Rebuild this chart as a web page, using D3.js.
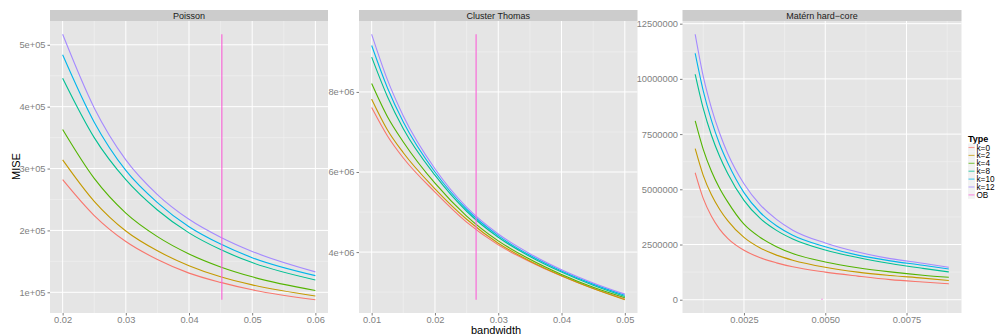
<!DOCTYPE html>
<html>
<head>
<meta charset="utf-8">
<script src="https://cdn.jsdelivr.net/npm/d3@7"></script>
<style>
  body { margin: 0; background: #fff; }
  svg { font-family: "Liberation Sans", Arial, sans-serif; }
</style>
</head>
<body>
<div id="chart"></div>
<script>
// series names + ggplot hue colours
types = ["k=0", "k=2", "k=4", "k=8", "k=10", "k=12", "OB"]
colors = ["#F8766D", "#C49A00", "#53B400", "#00C094", "#00B6EB", "#A58AFF", "#FB61D7"]

// Poisson (rows: k=0,k=2,k=4,k=8,k=10,k=12)
poissonBw = [0.02, 0.025, 0.03, 0.035, 0.04, 0.045, 0.05, 0.06]
poissonMise = [
  [282000, 224000, 182000, 153000, 131000, 116000, 104000, 88000],
  [314000, 247000, 199000, 167000, 143000, 125000, 112000, 94000],
  [363000, 284000, 228000, 190000, 162000, 141000, 125000, 103000],
  [446000, 350000, 282000, 233000, 196000, 169000, 148000, 120000],
  [484000, 375000, 297000, 245000, 206000, 178000, 156000, 127000],
  [517000, 398000, 314000, 258000, 218000, 189000, 166000, 133000]
]
poissonOB = [0.0452, 88000, 517000]   // bandwidth, from, to
poissonXTicks = [0.02, 0.03, 0.04, 0.05, 0.06]
poissonXLabels = ["0.02", "0.03", "0.04", "0.05", "0.06"]
poissonXMinor = [0.025, 0.035, 0.045, 0.055]
poissonYTicks = [100000, 200000, 300000, 400000, 500000]
poissonYLabels = ["1e+05", "2e+05", "3e+05", "4e+05", "5e+05"]
poissonYMinor = [150000, 250000, 350000, 450000]

// Cluster Thomas
thomasBw = [0.01, 0.0125, 0.015, 0.02, 0.025, 0.03, 0.035, 0.04, 0.045, 0.05]
thomasMise = [
  [7610000, 6900000, 6350000, 5500000, 4750000, 4180000, 3760000, 3400000, 3090000, 2830000],
  [7820000, 7050000, 6480000, 5580000, 4820000, 4220000, 3780000, 3410000, 3090000, 2810000],
  [8210000, 7380000, 6750000, 5720000, 4900000, 4280000, 3820000, 3440000, 3120000, 2860000],
  [8870000, 7880000, 7080000, 5920000, 5020000, 4370000, 3890000, 3500000, 3170000, 2890000],
  [9160000, 8100000, 7250000, 6000000, 5070000, 4410000, 3920000, 3530000, 3200000, 2920000],
  [9440000, 8300000, 7400000, 6080000, 5120000, 4450000, 3960000, 3560000, 3230000, 2950000]
]
thomasOB = [0.0265, 2810000, 9440000]
thomasXTicks = [0.01, 0.02, 0.03, 0.04, 0.05]
thomasXLabels = ["0.01", "0.02", "0.03", "0.04", "0.05"]
thomasXMinor = [0.015, 0.025, 0.035, 0.045]
thomasYTicks = [4000000, 6000000, 8000000]
thomasYLabels = ["4e+06", "6e+06", "8e+06"]
thomasYMinor = [3000000, 5000000, 7000000, 9000000]

// Matérn hard-core
maternBw = [0.001, 0.00125, 0.0015, 0.00175, 0.002, 0.0025, 0.003, 0.0035, 0.004, 0.005, 0.006, 0.007, 0.008, 0.0088]
maternMise = [
  [5750000, 4580000, 3780000, 3200000, 2780000, 2240000, 1900000, 1670000, 1490000, 1250000, 1070000, 910000, 800000, 720000],
  [6840000, 5620000, 4750000, 4100000, 3580000, 2820000, 2340000, 2020000, 1790000, 1470000, 1250000, 1100000, 980000, 870000],
  [8100000, 6800000, 5820000, 5050000, 4430000, 3420000, 2820000, 2400000, 2090000, 1710000, 1450000, 1260000, 1110000, 1020000],
  [10210000, 8650000, 7450000, 6500000, 5720000, 4500000, 3680000, 3140000, 2750000, 2250000, 1910000, 1640000, 1420000, 1260000],
  [11160000, 9450000, 8120000, 7050000, 6200000, 4850000, 3950000, 3350000, 2920000, 2400000, 2020000, 1760000, 1560000, 1390000],
  [12020000, 10100000, 8680000, 7550000, 6620000, 5250000, 4300000, 3640000, 3150000, 2570000, 2160000, 1860000, 1650000, 1470000]
]
maternOB = [0.0049, 0, 40000]
maternXTicks = [0.0025, 0.005, 0.0075]
maternXLabels = ["0.0025", "0.0050", "0.0075"]
maternXMinor = [0.00125, 0.00375, 0.00625, 0.00875]
maternYTicks = [0, 2500000, 5000000, 7500000, 10000000, 12500000]
maternYLabels = ["0", "2500000", "5000000", "7500000", "10000000", "12500000"]
maternYMinor = [1250000, 3750000, 6250000, 8750000, 11250000]

width = 997
height = 335
panelTop = 21
panelBottom = 313

svg = d3.select("#chart")
  .append("svg")
  .attr("width", width)
  .attr("height", height)

// ggplot pads each scale by 5% of the data range
function expand(ext) {
  var d = (ext[1] - ext[0]) * 0.05
  return [ext[0] - d, ext[1] + d]
}

function drawPanel(p) {
  var g = svg.append("g")

  var allY = p.mise.flat().concat([p.ob[1], p.ob[2]])
  var x = d3.scaleLinear()
    .domain(expand(d3.extent(p.bw.concat([p.ob[0]]))))
    .range([p.left, p.right])
  var y = d3.scaleLinear()
    .domain(expand(d3.extent(allY)))
    .range([panelBottom, panelTop])

  // background
  g.append("rect")
    .attr("x", p.left).attr("y", panelTop)
    .attr("width", p.right - p.left).attr("height", panelBottom - panelTop)
    .attr("fill", "#E5E5E5")

  // minor grid
  g.selectAll(null).data(p.yMinor).join("line")
    .attr("x1", p.left).attr("x2", p.right)
    .attr("y1", d => y(d)).attr("y2", d => y(d))
    .attr("stroke", "#F2F2F2").attr("stroke-width", 0.6)
  g.selectAll(null).data(p.xMinor).join("line")
    .attr("y1", panelTop).attr("y2", panelBottom)
    .attr("x1", d => x(d)).attr("x2", d => x(d))
    .attr("stroke", "#F2F2F2").attr("stroke-width", 0.6)

  // major grid
  g.selectAll(null).data(p.yTicks).join("line")
    .attr("x1", p.left).attr("x2", p.right)
    .attr("y1", d => y(d)).attr("y2", d => y(d))
    .attr("stroke", "#fff").attr("stroke-width", 1)
  g.selectAll(null).data(p.xTicks).join("line")
    .attr("y1", panelTop).attr("y2", panelBottom)
    .attr("x1", d => x(d)).attr("x2", d => x(d))
    .attr("stroke", "#fff").attr("stroke-width", 1)

  // strip
  g.append("rect")
    .attr("x", p.left).attr("y", 10)
    .attr("width", p.right - p.left).attr("height", panelTop - 10)
    .attr("fill", "#CCCCCC")
  g.append("text")
    .attr("x", (p.left + p.right) / 2).attr("y", 18.8)
    .attr("text-anchor", "middle")
    .style("font-size", "9px")
    .attr("fill", "#1A1A1A")
    .text(p.title)

  // axes
  var yAxis = g.append("g")
    .attr("transform", `translate(${p.left}, 0)`)
    .call(d3.axisLeft(y).tickValues(p.yTicks)
      .tickFormat((d, i) => p.yLabels[i]).tickSize(2.5).tickPadding(2))
  var xAxis = g.append("g")
    .attr("transform", `translate(0, ${panelBottom})`)
    .call(d3.axisBottom(x).tickValues(p.xTicks)
      .tickFormat((d, i) => p.xLabels[i]).tickSize(2.5).tickPadding(1))
  ;[yAxis, xAxis].forEach(function(a) {
    a.select(".domain").remove()
    a.selectAll(".tick line").attr("stroke", "#7F7F7F")
    a.selectAll(".tick text")
      .attr("fill", "#7F7F7F")
      .style("font-size", "9.3px")
      .style("font-family", "'Liberation Sans', Arial, sans-serif")
  })

  // curves
  var line = d3.line()
    .x((d, i) => x(p.bw[i]))
    .y(d => y(d))
    .curve(d3.curveMonotoneX)
  g.selectAll(null).data(p.mise).join("path")
    .attr("d", line)
    .attr("fill", "none")
    .attr("stroke", (d, i) => colors[i])
    .attr("stroke-width", 1.1)

  // OB bandwidth
  g.append("line")
    .attr("x1", x(p.ob[0])).attr("x2", x(p.ob[0]))
    .attr("y1", y(p.ob[1])).attr("y2", y(p.ob[2]))
    .attr("stroke", colors[6])
    .attr("stroke-width", 1.1)
}

drawPanel({title: "Poisson", left: 50, right: 328,
  bw: poissonBw, mise: poissonMise, ob: poissonOB,
  xTicks: poissonXTicks, xLabels: poissonXLabels, xMinor: poissonXMinor,
  yTicks: poissonYTicks, yLabels: poissonYLabels, yMinor: poissonYMinor})
drawPanel({title: "Cluster Thomas", left: 359, right: 637.5,
  bw: thomasBw, mise: thomasMise, ob: thomasOB,
  xTicks: thomasXTicks, xLabels: thomasXLabels, xMinor: thomasXMinor,
  yTicks: thomasYTicks, yLabels: thomasYLabels, yMinor: thomasYMinor})
drawPanel({title: "Matérn hard\u2212core", left: 682.5, right: 961.5,
  bw: maternBw, mise: maternMise, ob: maternOB,
  xTicks: maternXTicks, xLabels: maternXLabels, xMinor: maternXMinor,
  yTicks: maternYTicks, yLabels: maternYLabels, yMinor: maternYMinor})

// axis titles
svg.append("text")
  .attr("transform", "translate(19.5, 166.5) rotate(-90)")
  .attr("text-anchor", "middle")
  .style("font-size", "11px")
  .attr("fill", "#000")
  .text("MISE")
svg.append("text")
  .attr("x", 496).attr("y", 334)
  .attr("text-anchor", "middle")
  .style("font-size", "11px")
  .attr("fill", "#000")
  .text("bandwidth")

// legend
legend = svg.append("g")
legend.append("text")
  .attr("x", 968).attr("y", 141.5)
  .style("font-size", "9px")
  .style("font-weight", "bold")
  .text("Type")
items = legend.selectAll(null).data(types).join("g")
  .attr("transform", (d, i) => `translate(968, ${143.5 + i * 7.9})`)
items.append("rect")
  .attr("width", 7).attr("height", 7.9)
  .attr("fill", "#F2F2F2")
items.append("line")
  .attr("x1", 0.5).attr("x2", 6.5)
  .attr("y1", 4).attr("y2", 4)
  .attr("stroke", (d, i) => colors[i])
  .attr("stroke-width", 1.1)
  .attr("opacity", 0.7)
items.append("text")
  .attr("x", 8.5).attr("y", 7)
  .style("font-size", "8.2px")
  .attr("fill", "#000")
  .text(d => d)
</script>
</body>
</html>
